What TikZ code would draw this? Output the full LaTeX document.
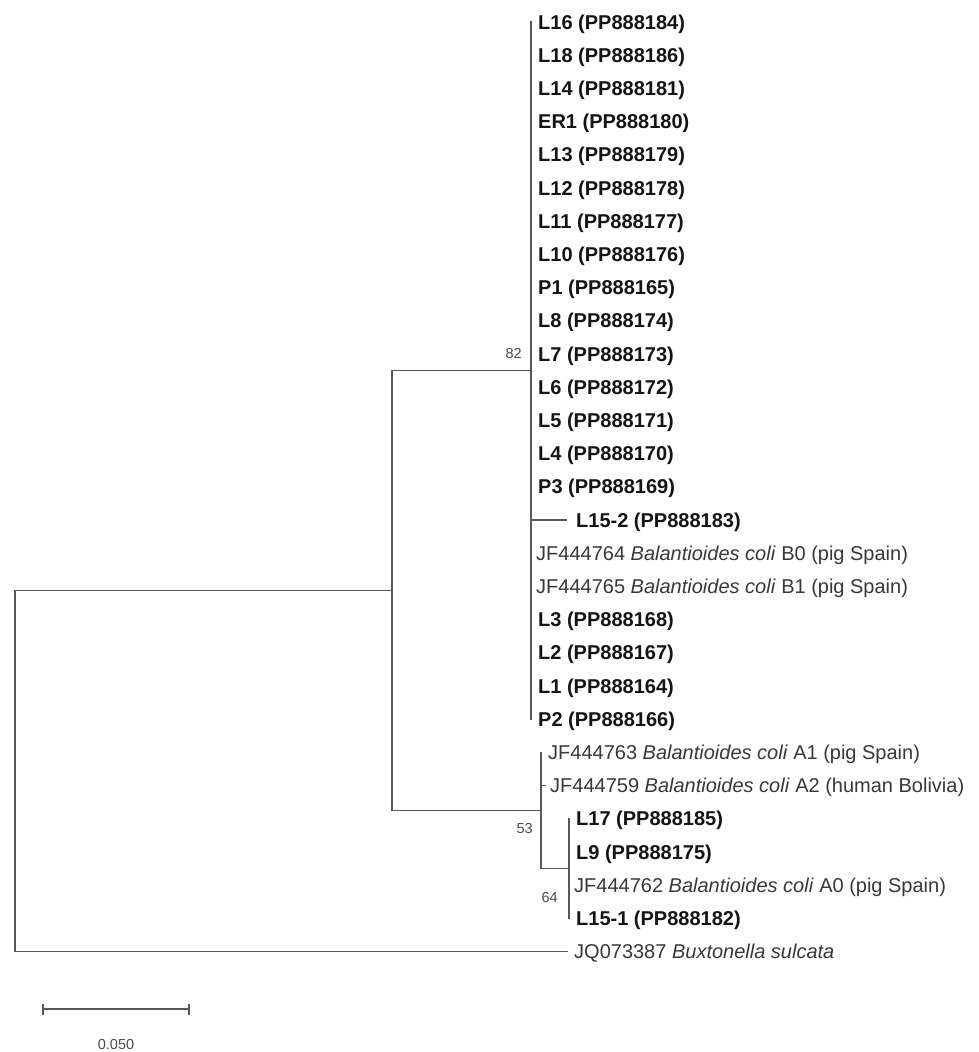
\documentclass[tikz,border=0pt]{standalone}
\usepackage{fontspec}
\setmainfont{Liberation Sans}
\usetikzlibrary{arrows.meta}
\begin{document}
\begin{tikzpicture}[x=1pt,y=-1pt,
  branch/.style={draw=black!66, line width=1.7pt, line cap=rect},
  lab/.style={anchor=base west, inner sep=0pt, font=\fontsize{20}{24}\selectfont},
  boldlab/.style={lab, text=black!92, font=\fontsize{20}{24}\selectfont\bfseries},
  reflab/.style={lab, text=black!78},
  bootlab/.style={anchor=base east, inner sep=0pt, text=black!70, font=\fontsize{14.5}{16}\selectfont}]
\useasboundingbox (0,0) rectangle (979,1052);
% internal nodes
\coordinate (root) at (15,771);
\coordinate (n1) at (392,590.5);
\coordinate (c82) at (531,370.5);
\coordinate (cA) at (541,810.5);
\coordinate (c64) at (569,868.6);
% tips
\coordinate (t0) at (531,22);
\coordinate (t15) at (566,520);
\coordinate (t21) at (531,719.2);
\coordinate (t22) at (541,752.4);
\coordinate (t23) at (545,785.6);
\coordinate (t24) at (569,818.8);
\coordinate (t27) at (569,918.4);
\coordinate (tB) at (567,951.6);
% branches
\draw[branch] (n1) -- (root |- n1) -- (root |- tB) -- (tB);
\draw[branch] (c82) -- (n1 |- c82) -- (n1 |- cA) -- (cA);
\draw[branch] (c82 |- t0) -- (c82 |- t21);
\draw[branch] (c82 |- t15) -- (t15);
\draw[branch] (cA |- t22) -- (cA |- c64) -- (c64);
\draw[branch] (cA |- t23) -- (t23);
\draw[branch] (c64 |- t24) -- (c64 |- t27);
% leaf labels, big clade
\node[boldlab] (l0) at (538,29) {L16 (PP888184)};
\node[boldlab] (l1) at (538,62.2) {L18 (PP888186)};
\node[boldlab] (l2) at (538,95.4) {L14 (PP888181)};
\node[boldlab] (l3) at (538,128.6) {ER1 (PP888180)};
\node[boldlab] (l4) at (538,161.8) {L13 (PP888179)};
\node[boldlab] (l5) at (538,195) {L12 (PP888178)};
\node[boldlab] (l6) at (538,228.2) {L11 (PP888177)};
\node[boldlab] (l7) at (538,261.4) {L10 (PP888176)};
\node[boldlab] (l8) at (538,294.6) {P1 (PP888165)};
\node[boldlab] (l9) at (538,327.8) {L8 (PP888174)};
\node[boldlab] (l10) at (538,361) {L7 (PP888173)};
\node[boldlab] (l11) at (538,394.2) {L6 (PP888172)};
\node[boldlab] (l12) at (538,427.4) {L5 (PP888171)};
\node[boldlab] (l13) at (538,460.6) {L4 (PP888170)};
\node[boldlab] (l14) at (538,493.8) {P3 (PP888169)};
\node[boldlab] (l15) at (576,527) {L15-2 (PP888183)};
\node[reflab] (l16) at (536,560.2) {JF444764 \textit{Balantioides coli} B0 (pig Spain)};
\node[reflab] (l17) at (536,593.4) {JF444765 \textit{Balantioides coli} B1 (pig Spain)};
\node[boldlab] (l18) at (538,626.6) {L3 (PP888168)};
\node[boldlab] (l19) at (538,659.8) {L2 (PP888167)};
\node[boldlab] (l20) at (538,693) {L1 (PP888164)};
\node[boldlab] (l21) at (538,726.2) {P2 (PP888166)};
% clade A
\node[reflab] (l22) at (548,759.4) {JF444763 \textit{Balantioides coli} A1 (pig Spain)};
\node[reflab] (l23) at (550,792.6) {JF444759 \textit{Balantioides coli} A2 (human Bolivia)};
\node[boldlab] (l24) at (576,825.8) {L17 (PP888185)};
\node[boldlab] (l25) at (576,859) {L9 (PP888175)};
\node[reflab] (l26) at (574,892.2) {JF444762 \textit{Balantioides coli} A0 (pig Spain)};
\node[boldlab] (l27) at (576,925.4) {L15-1 (PP888182)};
\node[reflab] (l28) at (574,958.6) {JQ073387 \textit{Buxtonella sulcata}};
% bootstrap values
\node[bootlab] (b82) at (522,358) {82};
\node[bootlab] (b53) at (533,833) {53};
\node[bootlab] (b64) at (558,902) {64};
% scale bar
\coordinate (sb1) at (42,1009);
\coordinate (sb2) at (190,1009);
\draw[branch, line cap=butt, {Bar[width=11pt,line width=1.7pt]}-{Bar[width=11pt,line width=1.7pt]}] (sb1) -- (sb2);
\node[anchor=base, inner sep=0pt, text=black!70, font=\fontsize{14.5}{16}\selectfont] (sbl) at (116,1049) {0.050};
\end{tikzpicture}
\end{document}
